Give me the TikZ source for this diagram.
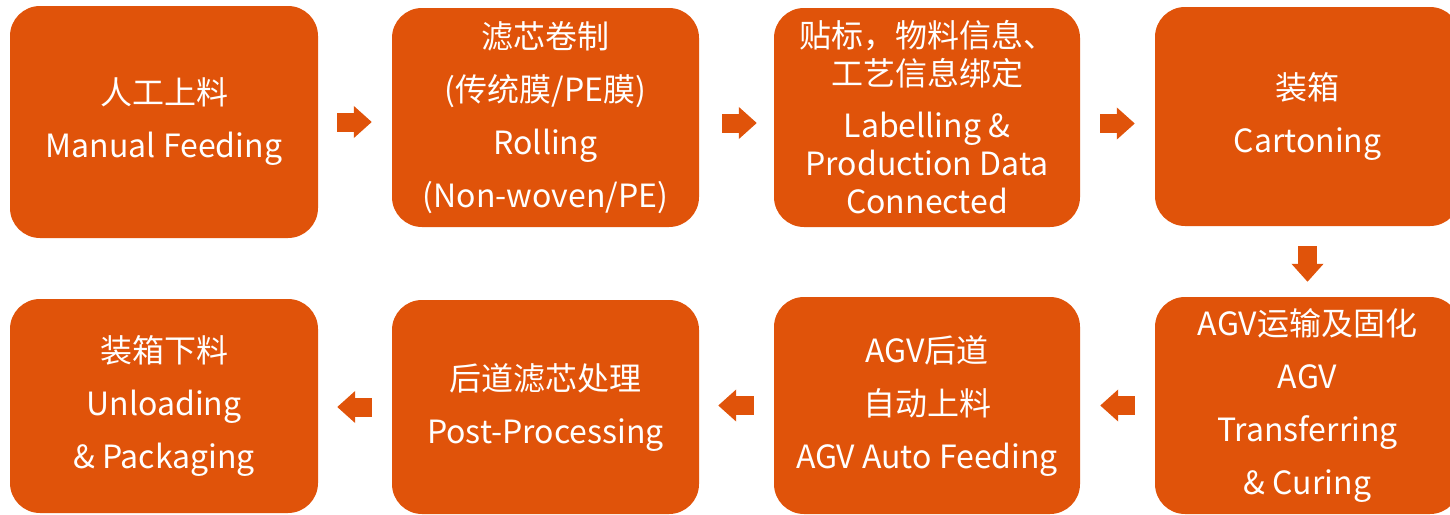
\documentclass[tikz,border=0pt]{standalone}
\usepackage{fontspec}
\setmainfont{Noto Sans CJK SC}
\usetikzlibrary{arrows.meta}
\definecolor{boxorange}{RGB}{224,83,10}
\tikzset{
  stepbox/.style={fill=boxorange, text=white, rounded corners=30pt, align=center,
    inner sep=0pt, font=\fontsize{32}{53}\selectfont},
  flow/.style={draw=boxorange, line width=19pt, -{Triangle[length=18pt,width=31pt]}}
}
\begin{document}
\begin{tikzpicture}[x=1pt,y=-1pt]
\useasboundingbox (0,0) rectangle (1450,514);
% top row
\node[stepbox, minimum width=308pt, minimum height=232pt] (b1) at (164,122) {人工上料\\Manual Feeding};
\node[stepbox, minimum width=307pt, minimum height=219pt] (b2) at (545.5,117.5) {滤芯卷制\\(传统膜/PE膜)\\Rolling\\(Non-woven/PE)};
\node[stepbox, minimum width=306pt, minimum height=219pt, font=\fontsize{32}{38}\selectfont] (b3) at (927,117.5) {贴标，物料信息、\\工艺信息绑定\\[14pt]Labelling \&\\Production Data\\Connected};
\node[stepbox, minimum width=305pt, minimum height=219pt] (b4) at (1307.5,116.5) {装箱\\Cartoning};
% bottom row
\node[stepbox, minimum width=308pt, minimum height=214pt] (b5) at (164,406) {装箱下料\\Unloading\\\& Packaging};
\node[stepbox, minimum width=307pt, minimum height=214pt] (b6) at (545.5,407) {后道滤芯处理\\Post-Processing};
\node[stepbox, minimum width=306pt, minimum height=217pt] (b7) at (927,405.5) {AGV后道\\自动上料\\AGV Auto Feeding};
\node[stepbox, minimum width=305pt, minimum height=217pt] (b8) at (1307.5,405.5) {AGV运输及固化\\AGV\\Transferring\\\& Curing};
% block arrows
\draw[flow, shorten <=19pt, shorten >=20pt] (b1.east) -- (b1.east -| b2.west);
\draw[flow, shorten <=23pt, shorten >=17pt] ([yshift=-5.5pt]b2.east) -- ([yshift=-5.5pt]b2.east -| b3.west);
\draw[flow, shorten <=20pt, shorten >=20pt] ([yshift=-6pt]b3.east) -- ([yshift=-6pt]b3.east -| b4.west);
\draw[flow, shorten <=20pt, shorten >=15pt] (b4.south) -- (b4.south |- b8.north);
\draw[flow, shorten <=20pt, shorten >=20pt] (b8.west) -- (b8.west -| b7.east);
\draw[flow, shorten <=20pt, shorten >=19pt] (b7.west) -- (b7.west -| b6.east);
\draw[flow, shorten <=20pt, shorten >=19pt] (b6.west) -- (b6.west -| b5.east);
\end{tikzpicture}
\end{document}
